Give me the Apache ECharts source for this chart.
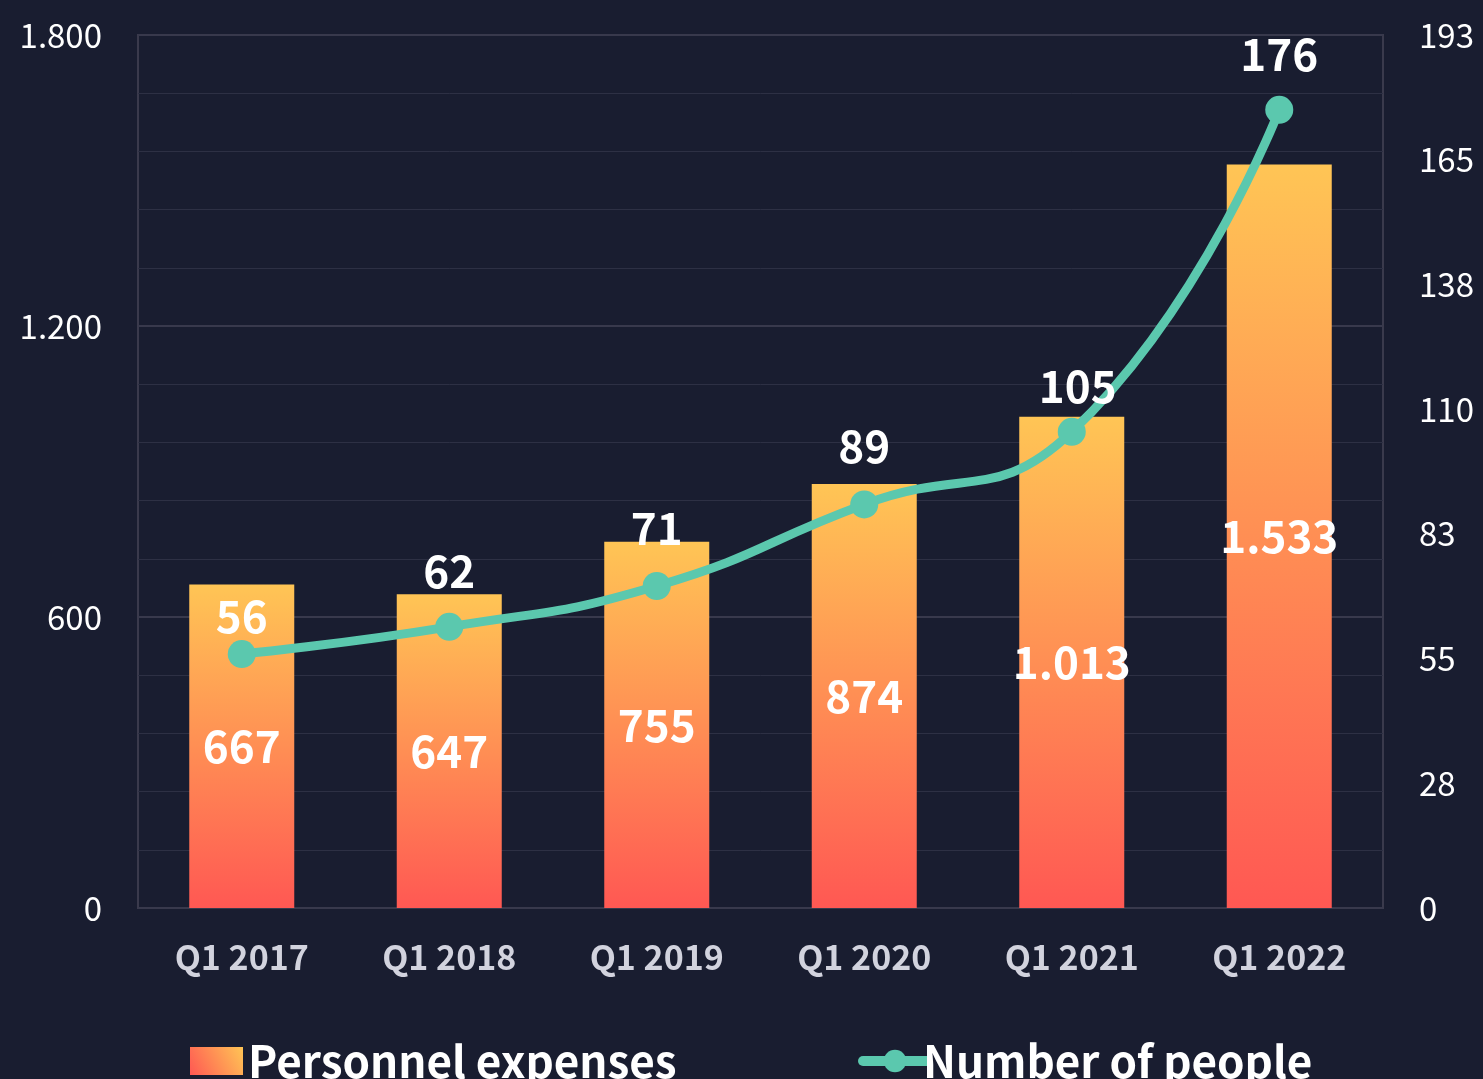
<!DOCTYPE html>
<html>
<head>
<meta charset="utf-8">
<script src="https://cdn.jsdelivr.net/npm/echarts@6/dist/echarts.min.js"></script>
<style>
  html, body { margin: 0; padding: 0; background: #191d30; }
  #main { width: 1483px; height: 1079px; }
</style>
</head>
<body>
<div id="main"></div>
<script>
var categories = ['Q1 2017', 'Q1 2018', 'Q1 2019', 'Q1 2020', 'Q1 2021', 'Q1 2022'];
var expenses = [667, 647, 755, 874, 1013, 1533];
var people = [56, 62, 71, 89, 105, 176];

var FONT = '"Noto Sans CJK SC", "Noto Sans", sans-serif';
// gap between point and its label, per point (the first and fifth sit lower)
var labelGaps = [2, 20, 22, 22, 10, 20];

// 1.013 style numbers
function fmt(v) {
  return String(Math.round(v)).replace(/\B(?=(\d{3})+(?!\d))/g, '.');
}

var myChart = echarts.init(document.getElementById('main'));

function barGradient(x0, y0, x1, y1) {
  return new echarts.graphic.LinearGradient(x0, y0, x1, y1, [
    { offset: 0, color: '#ffc555' },
    { offset: 1, color: '#ff5853' }
  ]);
}

function legendText(pad) {
  return {
    color: '#fff',
    fontSize: 44,
    fontWeight: 'bold',
    fontFamily: FONT,
    padding: [0, 0, 0, pad]
  };
}

var option = {
  backgroundColor: '#191d30',
  textStyle: { fontFamily: FONT },
  grid: {
    left: 138,
    right: 100,
    top: 35,
    bottom: 171,
    show: true,
    borderColor: '#3a3a4c',
    borderWidth: 2,
    backgroundColor: 'transparent'
  },
  legend: [
    {
      top: 1034,
      left: 185,
      itemWidth: 53,
      itemHeight: 28,
      textStyle: legendText(0),
      data: [{ name: 'Personnel expenses', icon: 'rect', itemStyle: { color: barGradient(1, 0, 0, 1) } }]
    },
    {
      top: 1034,
      left: 853,
      itemWidth: 64,
      itemHeight: 28,
      textStyle: legendText(-9),
      data: [{ name: 'Number of people', lineStyle: { width: 10, cap: 'round' } }]
    }
  ],
  xAxis: {
    type: 'category',
    data: categories,
    axisLine: { show: false },
    axisTick: { show: false },
    axisLabel: {
      color: '#d2d3de',
      fontSize: 34,
      fontWeight: 'bold',
      fontFamily: FONT,
      margin: 32
    }
  },
  yAxis: [
    {
      type: 'value',
      min: 0,
      max: 1800,
      interval: 600,
      axisLine: { show: false },
      axisTick: { show: false },
      axisLabel: {
        color: '#fff',
        fontSize: 33,
        fontFamily: FONT,
        margin: 36,
        formatter: fmt
      },
      splitLine: { lineStyle: { color: '#38394c', width: 2 } },
      minorTick: { show: false, splitNumber: 5 },
      minorSplitLine: { show: true, lineStyle: { color: '#2d3044', width: 1 } }
    },
    {
      type: 'value',
      min: 0,
      max: 192.5,
      interval: 27.5,
      axisLine: { show: false },
      axisTick: { show: false },
      splitLine: { show: false },
      axisLabel: {
        color: '#fff',
        fontSize: 33,
        fontFamily: FONT,
        margin: 36,
        formatter: function (v) { return Math.round(v); }
      }
    }
  ],
  series: [
    {
      name: 'Personnel expenses',
      type: 'bar',
      data: expenses,
      barWidth: 105,
      itemStyle: { color: barGradient(0, 0, 0, 1) },
      label: {
        show: true,
        position: 'inside',
        color: '#fff',
        fontSize: 44,
        fontWeight: 'bold',
        fontFamily: FONT,
        formatter: function (p) { return fmt(p.value); }
      },
      z: 2
    },
    {
      name: 'Number of people',
      type: 'line',
      yAxisIndex: 1,
      data: people.map(function (v, i) {
        return { value: v, label: { distance: labelGaps[i], offset: i === 4 ? [6, 0] : [0, 0] } };
      }),
      smooth: true,
      symbol: 'circle',
      symbolSize: 28,
      lineStyle: { color: '#5bc8ae', width: 9 },
      itemStyle: { color: '#5bc8ae' },
      label: {
        show: true,
        position: 'top',
        color: '#fff',
        fontSize: 44,
        fontWeight: 'bold',
        fontFamily: FONT
      },
      z: 3
    }
  ]
};

myChart.setOption(option);
</script>
</body>
</html>
